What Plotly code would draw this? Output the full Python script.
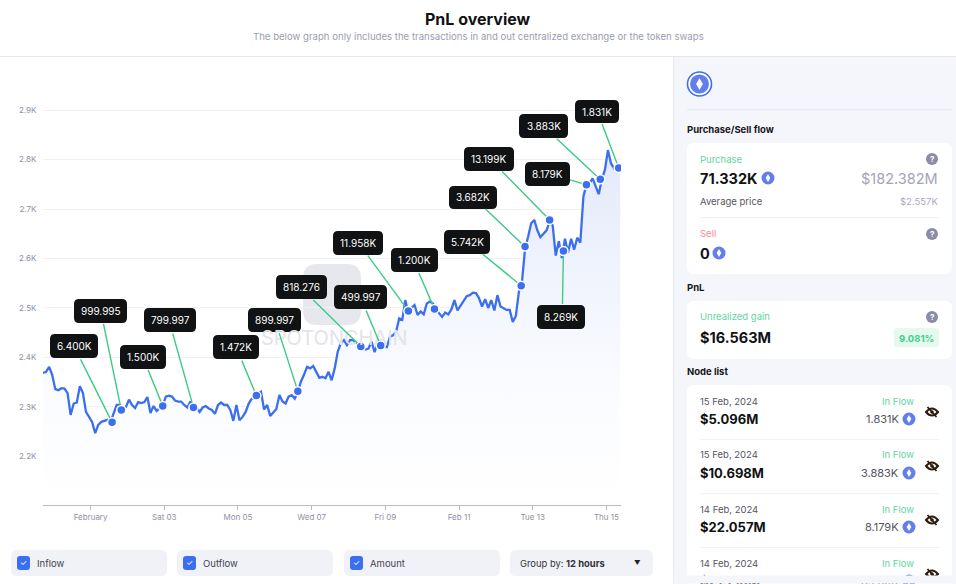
# PnL overview chart with the side panel
import pandas as pd
import plotly.graph_objects as go

W, H = 956, 584
FONT = "Inter"

# price every 2 hours from 30 Jan 17:00
prices = [
    2369, 2371, 2381, 2365, 2336, 2334, 2338, 2337, 2328, 2284,
    2307, 2309, 2342, 2328, 2290, 2280, 2270, 2247, 2264, 2270,
    2272, 2274, 2270, 2287, 2304, 2304, 2298, 2300, 2315, 2304,
    2298, 2310, 2308, 2310, 2320, 2288, 2302, 2292, 2298, 2303,
    2321, 2323, 2321, 2313, 2311, 2311, 2304, 2299, 2311, 2301,
    2299, 2290, 2299, 2302, 2297, 2294, 2286, 2304, 2309, 2304,
    2304, 2294, 2272, 2304, 2273, 2280, 2290, 2307, 2317, 2317,
    2328, 2331, 2295, 2304, 2282, 2290, 2296, 2324, 2311, 2307,
    2321, 2324, 2317, 2331, 2351, 2365, 2381, 2378, 2383, 2371,
    2359, 2361, 2358, 2371, 2354, 2378, 2412, 2429, 2435, 2425,
    2435, 2435, 2430, 2424, 2421, 2416, 2418, 2432, 2411, 2429,
    2425, 2421, 2421, 2442, 2445, 2452, 2479, 2476, 2516, 2488,
    2500, 2506, 2486, 2493, 2487, 2509, 2513, 2509, 2497, 2489,
    2482, 2491, 2487, 2497, 2516, 2495, 2505, 2516, 2524, 2526,
    2531, 2530, 2520, 2503, 2518, 2500, 2516, 2495, 2526, 2503,
    2499, 2496, 2496, 2472, 2484, 2533, 2553, 2620, 2644, 2671,
    2678, 2657, 2643, 2649, 2657, 2674, 2667, 2606, 2635, 2601,
    2640, 2612, 2640, 2618, 2642, 2632, 2725, 2750, 2752, 2762,
    2745, 2730, 2760, 2779, 2819, 2792, 2782, 2789, 2782,
]

# time, price, label, tail offset of the connector, label box (left, top, right, bottom)
nodes = [
    ("2024-02-01 14:00", 2269, "6.400K", (-32, -64), (50, 334, 98, 358)),
    ("2024-02-01 20:00", 2294, "999.995", (-18, -87), (74, 299, 127, 323)),
    ("2024-02-02 23:00", 2302, "1.500K", (-15, -37), (120, 345, 166, 369)),
    ("2024-02-03 19:00", 2299, "799.997", (-21, -75), (144, 308, 196, 332)),
    ("2024-02-05 12:00", 2323, "1.472K", (-15, -36), (213, 335, 259, 359)),
    ("2024-02-06 15:00", 2332, "899.997", (-19, -59), (248, 308, 301, 332)),
    ("2024-02-08 08:00", 2422, "818.276", (-48, -47), (276, 275, 327, 299)),
    ("2024-02-08 21:00", 2424, "499.997", (-15, -36), (334, 285, 387, 309)),
    ("2024-02-09 15:00", 2494, "11.958K", (-41, -56), (333, 231, 383, 255)),
    ("2024-02-10 08:00", 2498, "1.200K", (-16, -37), (391, 248, 438, 272)),
    ("2024-02-12 16:30", 2545, "5.742K", (-39, -32), (444, 230, 490, 254)),
    ("2024-02-12 19:00", 2624, "3.682K", (-40, -38), (449, 186, 497, 209)),
    ("2024-02-13 11:00", 2678, "13.199K", (-48, -49), (464, 147, 514, 171)),
    ("2024-02-13 20:00", 2615, "8.269K", (-1, 54), (537, 305, 585, 329)),
    ("2024-02-14 11:00", 2749, "8.179K", (-17, -5), (525, 162, 570, 186)),
    ("2024-02-14 20:00", 2760, "3.883K", (-44, -41), (519, 114, 568, 138)),
    ("2024-02-15 08:00", 2783, "1.831K", (-17, -45), (575, 100, 619, 123)),
]

rows = [
    ("15 Feb, 2024", "$5.096M", "1.831K"),
    ("15 Feb, 2024", "$10.698M", "3.883K"),
    ("14 Feb, 2024", "$22.057M", "8.179K"),
    ("14 Feb, 2024", "$21.719M", "8.269K"),
]


def px(x):
    return x / W


def py(y):
    return 1 - y / H


def rounded_path(x0, y0, x1, y1, r):
    # rounded rectangle from window pixels to paper coordinates
    pts = [
        f"M{px(x0 + r)},{py(y0)}",
        f"L{px(x1 - r)},{py(y0)}",
        f"Q{px(x1)},{py(y0)} {px(x1)},{py(y0 + r)}",
        f"L{px(x1)},{py(y1 - r)}",
        f"Q{px(x1)},{py(y1)} {px(x1 - r)},{py(y1)}",
        f"L{px(x0 + r)},{py(y1)}",
        f"Q{px(x0)},{py(y1)} {px(x0)},{py(y1 - r)}",
        f"L{px(x0)},{py(y0 + r)}",
        f"Q{px(x0)},{py(y0)} {px(x0 + r)},{py(y0)}",
        "Z",
    ]
    return " ".join(pts)


def add_box(fig, x0, y0, x1, y1, r, color, layer="above"):
    fig.add_shape(
        type="path",
        path=rounded_path(x0, y0, x1, y1, r),
        xref="paper",
        yref="paper",
        fillcolor=color,
        line_width=0,
        layer=layer,
    )


def add_rect(fig, x0, y0, x1, y1, color):
    fig.add_shape(
        type="rect",
        x0=px(x0),
        x1=px(x1),
        y0=py(y0),
        y1=py(y1),
        xref="paper",
        yref="paper",
        fillcolor=color,
        line_width=0,
    )


def add_circle(fig, cx, cy, r, color, line=None, line_width=0):
    fig.add_shape(
        type="circle",
        x0=px(cx - r),
        x1=px(cx + r),
        y0=py(cy + r),
        y1=py(cy - r),
        xref="paper",
        yref="paper",
        fillcolor=color,
        line=dict(color=line, width=line_width),
    )


def add_text(fig, x, y, text, size=9.5, color="#444450", anchor="left"):
    fig.add_annotation(
        x=px(x),
        y=py(y),
        xref="paper",
        yref="paper",
        text=text,
        showarrow=False,
        xanchor=anchor,
        yanchor="middle",
        borderpad=0,
        font=dict(family=FONT, size=size, color=color),
    )


def add_eth(fig, cx, cy, r):
    add_circle(fig, cx, cy, r, "#627eea")
    k = r * 0.6
    path = (
        f"M{px(cx)},{py(cy - k)} L{px(cx + k * 0.6)},{py(cy)} "
        f"L{px(cx)},{py(cy + k)} L{px(cx - k * 0.6)},{py(cy)} Z"
    )
    fig.add_shape(
        type="path",
        path=path,
        xref="paper",
        yref="paper",
        fillcolor="#ffffff",
        line_width=0,
    )


def add_help(fig, cx, cy):
    add_circle(fig, cx, cy, 6, "#8c8ca6")
    add_text(fig, cx, cy, "<b>?</b>", size=8, color="#ffffff", anchor="center")


def add_eye(fig, cx, cy):
    # crossed out eye of the node list
    color = "#2b1c0c"
    path = (
        f"M{px(cx - 6)},{py(cy)} Q{px(cx)},{py(cy - 7)} {px(cx + 6)},{py(cy)} "
        f"Q{px(cx)},{py(cy + 7)} {px(cx - 6)},{py(cy)} Z"
    )
    fig.add_shape(
        type="path",
        path=path,
        xref="paper",
        yref="paper",
        line=dict(color=color, width=2),
    )
    add_circle(fig, cx, cy, 1.8, color)
    fig.add_shape(
        type="line",
        x0=px(cx - 4.5),
        x1=px(cx + 4.5),
        y0=py(cy - 5),
        y1=py(cy + 5),
        xref="paper",
        yref="paper",
        line=dict(color=color, width=1.8),
    )


def create_chart(fig):
    times = pd.date_range("2024-01-30 17:00", periods=len(prices), freq="2h")
    fig.add_trace(
        go.Scatter(
            x=times,
            y=prices,
            mode="lines",
            name="Amount",
            line=dict(color="#3b6ef0", width=2.3),
            fill="tozeroy",
            fillgradient=dict(
                type="vertical",
                colorscale=[
                    [0, "#ffffff"],
                    [0.3, "#fbfcff"],
                    [0.6, "#f2f5fd"],
                    [1, "#e4e9fb"],
                ],
                start=2102,
                stop=2820,
            ),
        )
    )
    fig.add_trace(
        go.Scatter(
            x=[n[0] for n in nodes],
            y=[n[1] for n in nodes],
            mode="markers",
            name="Nodes",
            marker=dict(
                color="#3b6ef0", size=9, line=dict(color="#ffffff", width=1.5)
            ),
        )
    )

    # watermark
    add_box(fig, 303, 264, 361, 325, 14, "#e7e8ee", layer="below")
    add_text(fig, 334, 338, "SPOTONCHAIN", size=20, color="#e3e4ea", anchor="center")

    for t, price, label, tail, box in nodes:
        fig.add_annotation(
            x=t,
            y=price,
            ax=tail[0],
            ay=tail[1],
            axref="pixel",
            ayref="pixel",
            text=" ",
            font=dict(size=1),
            borderpad=0,
            showarrow=True,
            arrowhead=0,
            arrowwidth=1.4,
            arrowcolor="#3ccb87",
            standoff=5,
        )
        add_box(fig, box[0], box[1], box[2], box[3], 5, "#111214")
        add_text(
            fig,
            (box[0] + box[2]) / 2,
            (box[1] + box[3]) / 2,
            label,
            size=10,
            color="#ffffff",
            anchor="center",
        )

    fig.update_xaxes(
        domain=[px(43), px(621)],
        range=["2024-01-30 17:00", "2024-02-15 09:30"],
        tickvals=[
            "2024-02-01",
            "2024-02-03",
            "2024-02-05",
            "2024-02-07",
            "2024-02-09",
            "2024-02-11",
            "2024-02-13",
            "2024-02-15",
        ],
        ticktext=[
            "February",
            "Sat 03",
            "Mon 05",
            "Wed 07",
            "Fri 09",
            "Feb 11",
            "Tue 13",
            "Thu 15",
        ],
        showgrid=False,
        showline=True,
        linecolor="#b9b9d4",
        ticks="outside",
        ticklen=4,
        tickcolor="#b9b9d4",
        tickfont=dict(family=FONT, size=8, color="#8f8fa8"),
    )
    fig.update_yaxes(
        domain=[py(505), py(85)],
        range=[2102, 2950.5],
        tickvals=[2200, 2300, 2400, 2500, 2600, 2700, 2800, 2900],
        ticktext=["2.2K", "2.3K", "2.4K", "2.5K", "2.6K", "2.7K", "2.8K", "2.9K"],
        showgrid=True,
        gridcolor="#f1f1f6",
        zeroline=False,
        showline=False,
        ticks="outside",
        ticklen=4,
        tickcolor="rgba(0,0,0,0)",
        tickfont=dict(family=FONT, size=8, color="#8f8fa8"),
    )


def create_header(fig):
    add_text(fig, 478, 19, "<b>PnL overview</b>", size=16, color="#111214", anchor="center")
    add_text(
        fig,
        478,
        36.5,
        "The below graph only includes the transactions in and out centralized exchange or the token swaps",
        size=9.6,
        color="#9c9cb2",
        anchor="center",
    )
    add_rect(fig, 0, 56, W, 57, "#e6e6ec")


def create_panel(fig):
    add_rect(fig, 673, 57, W, H, "#f5f6fb")
    add_rect(fig, 673, 57, 674, H, "#e8e8ef")

    add_circle(fig, 699.5, 84, 12, "#ffffff", line="#3b6ef0", line_width=1.6)
    add_eth(fig, 699.5, 84, 9.5)
    add_rect(fig, 687, 109, 952, 110.5, "#e8e9f0")

    add_text(fig, 686, 129.5, "<b>Purchase/Sell flow</b>", color="#15151a")
    add_box(fig, 687, 143, 952, 274, 7, "#ffffff")
    add_text(fig, 699, 159, "Purchase", color="#62d6a0")
    add_help(fig, 932, 159)
    add_text(fig, 699, 178, "<b>71.332K</b>", size=14.5, color="#111214")
    add_eth(fig, 768, 178, 6.5)
    add_text(fig, 939, 178, "$182.382M", size=14.5, color="#a3a3ba", anchor="right")
    add_text(fig, 699, 201, "Average price", color="#55555f")
    add_text(fig, 939, 201, "$2.557K", color="#aaaabd", anchor="right")
    add_rect(fig, 700, 217, 939, 218, "#f3f3f6")
    add_text(fig, 699, 234, "Sell", color="#f78b8b")
    add_help(fig, 932, 234)
    add_text(fig, 699, 253, "<b>0</b>", size=14.5, color="#111214")
    add_eth(fig, 719, 253, 6.5)

    add_text(fig, 686, 287, "<b>PnL</b>", color="#15151a")
    add_box(fig, 687, 301, 952, 359, 7, "#ffffff")
    add_text(fig, 699, 316, "Unrealized gain", color="#62d6a0")
    add_help(fig, 932, 317)
    add_text(fig, 699, 337, "<b>$16.563M</b>", size=14.5, color="#111214")
    add_box(fig, 894, 328, 939, 347, 3, "#e6f9ef")
    add_text(fig, 916.5, 338, "<b>9.081%</b>", size=9.5, color="#3ecf8e", anchor="center")

    add_text(fig, 686, 371.5, "<b>Node list</b>", color="#15151a")
    add_box(fig, 687, 385, 952, 590, 7, "#ffffff")
    for i, (date, usd, eth) in enumerate(rows):
        y = 401 + 54 * i
        add_text(fig, 699, y, date, color="#55555f")
        add_text(fig, 699, y + 18, f"<b>{usd}</b>", size=13, color="#111214")
        add_text(fig, 915, y, "In Flow", color="#62d6a0", anchor="right")
        add_text(fig, 900, y + 18, eth, size=11, color="#55555f", anchor="right")
        add_eth(fig, 909, y + 18, 6.5)
        add_eye(fig, 932, y + 11)
        if i < 3:
            add_rect(fig, 700, y + 38, 939, y + 39, "#f3f3f6")
    # the list is cut off at the bottom of the card
    fig.add_annotation(
        x=px(815),
        y=0,
        xref="paper",
        yref="paper",
        xanchor="center",
        yanchor="bottom",
        text=" ",
        showarrow=False,
        width=282,
        height=7,
        borderpad=0,
        bgcolor="#f5f6fb",
    )


def create_controls(fig):
    for x0, x1, label in [(11, 167, "Inflow"), (177, 333, "Outflow"), (344, 500, "Amount")]:
        add_box(fig, x0, 550, x1, 576, 6, "#f1f2f7")
        add_box(fig, x0 + 6, 556, x0 + 19, 570, 3, "#3b6ef0")
        add_text(fig, x0 + 12.5, 563, "✓", size=8, color="#ffffff", anchor="center")
        add_text(fig, x0 + 25, 563, label, color="#44444e")
    add_box(fig, 510, 550, 653, 576, 6, "#f1f2f7")
    add_text(fig, 519, 563, "Group by: <b>12 hours</b>", size=9.4, color="#33333b")
    add_text(fig, 637, 563, "▼", size=6.5, color="#22222a", anchor="center")


def main():
    fig = go.Figure()
    create_chart(fig)
    create_header(fig)
    create_panel(fig)
    create_controls(fig)
    fig.update_layout(
        template="plotly_white",
        width=W,
        height=H,
        margin=dict(l=0, r=0, t=0, b=0),
        showlegend=False,
        paper_bgcolor="#ffffff",
        plot_bgcolor="rgba(0,0,0,0)",
        font=dict(family=FONT),
    )
    fig.write_html(
        "out.html",
        config=dict(displayModeBar=False),
        post_script="document.body.style.margin='0';",
    )


if __name__ == "__main__":
    main()
